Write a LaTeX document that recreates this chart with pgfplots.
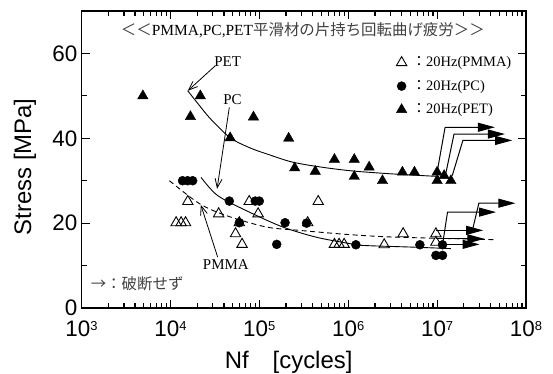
\documentclass[border=0pt]{standalone}
\usepackage{fontspec}
\setmainfont{Liberation Serif}
\newfontfamily\arial{Liberation Sans}
\newfontfamily\jp{Noto Sans CJK JP}
\usepackage{pgfplots}
\pgfplotsset{compat=1.18}
\usetikzlibrary{arrows.meta}
\newcommand{\ex}[1]{10\raisebox{6.5bp}{\fontsize{13}{13}\selectfont #1}}
\begin{document}
\begin{tikzpicture}[
  annot/.style={line width=0.8bp, -{Straight Barb[length=9bp,width=7bp]}},
  runout/.style={line width=1bp, -{Triangle[length=17bp,width=9bp]}}]
\path[use as bounding box] (0,0) rectangle (553bp,374bp);
\begin{axis}[
  at={(81.5bp,66bp)}, anchor=south west,
  scale only axis, width=444.5bp, height=297bp,
  xmode=log, xmin=1e3, xmax=1e8, ymin=0, ymax=70,
  xtick={1e3,1e4,1e5,1e6,1e7,1e8},
  xticklabels={\ex{3},\ex{4},\ex{5},\ex{6},\ex{7},\ex{8}},
  ytick={0,20,40,60}, yticklabels={0,20,40,60},
  minor ytick={10,30,50},
  tick align=inside,
  major tick length=8bp, minor tick length=5bp,
  axis line style={line width=1.5bp},
  every tick/.style={black, line width=1.2bp},
  ticklabel style={font=\arial\fontsize{22.5}{22.5}\selectfont, inner sep=1bp},
  xticklabel style={yshift=-12bp},
  yticklabel style={xshift=-3bp},
  xlabel={Nf\hspace{24bp}[cycles]},
  ylabel={Stress [MPa]},
  label style={font=\arial\fontsize{24}{24}\selectfont},
  xlabel style={at={(axis description cs:0.466,-0.184)}, anchor=center},
  ylabel style={at={(axis description cs:-0.127,0.475)}, anchor=center},
  legend style={at={(axis description cs:0.708,0.853)}, anchor=north west,
    draw=none, fill=none, font=\fontsize{14.5}{17}\selectfont,
    row sep=8bp, inner sep=0pt},
  legend cell align=left,
]
\addlegendimage{only marks, mark=triangle, mark size=6bp, mark options={black, line width=0.9bp}}
\addlegendentry{\hspace{3bp}{\jp ：}20Hz(PMMA)}
\addlegendimage{only marks, mark=*, mark size=4.5bp, mark options={black}}
\addlegendentry{\hspace{3bp}{\jp ：}20Hz(PC)}
\addlegendimage{only marks, mark=triangle*, mark size=6bp, mark options={black}}
\addlegendentry{\hspace{3bp}{\jp ：}20Hz(PET)}

% fit curves
\addplot[forget plot, black, line width=0.9bp, smooth] coordinates {
(1.567e4,51.2) (2.0e4,48.4) (2.82e4,44.6) (4.72e4,40.1) (7.94e4,37.7)
(1.26e5,36.2) (2.34e5,34.4) (5.0e5,33.2) (1.12e6,32.3) (3.16e6,31.6) (1.05e7,31.0)};
\addplot[forget plot, black, line width=0.9bp, smooth] coordinates {
(2.21e4,30.8) (3.4e4,26.5) (7.73e4,22.6) (1.83e5,19.1) (4.34e5,16.7)
(1.03e6,15.2) (1.45e6,14.75) (5.25e6,14.35) (1.43e7,14.0)};
\addplot[forget plot, black, line width=0.9bp, smooth, dash pattern=on 5bp off 3.5bp] coordinates {
(9.75e3,30.0) (2.12e4,24.6) (4.23e4,21.8) (1.19e5,19.1) (2.81e5,18.3)
(1.03e6,17.3) (3.44e6,16.7) (4.57e7,16.1)};

% PC
\addplot[forget plot, only marks, mark=*, mark size=4.5bp, mark options={black}] coordinates {
(1.37e4,30) (1.56e4,30) (1.78e4,30) (4.6e4,25.2) (9e4,25.2) (1e5,25.2)
(5.96e4,20.1) (1.95e5,20.1) (3.4e5,20) (1.57e5,15) (1.22e6,14.9)
(6.4e6,14.9) (1.15e7,14.9) (9.7e6,12.4) (1.15e7,12.4)};
% PET
\addplot[forget plot, only marks, mark=triangle*, mark size=6bp, mark options={black}] coordinates {
(4.9e3,50) (2.17e4,50) (1.68e4,45.1) (8.6e4,45) (4.7e4,40.1) (2.14e5,40)
(2.5e5,33) (4.26e5,32.2) (7e5,35) (1.17e6,35) (1.17e6,31) (1.72e6,33.2)
(2.43e6,30) (4.07e6,32) (5.56e6,32) (1e7,32) (1e7,30) (1.2e7,31.2) (1.43e7,30)};
% PMMA
\addplot[forget plot, only marks, mark=triangle, mark size=6bp, mark options={black, line width=0.9bp}] coordinates {
(1.57e4,25.1) (1.16e4,20.1) (1.32e4,20.1) (1.48e4,20.1) (3.49e4,22.2)
(7.7e4,25.1) (9.7e4,22.2) (5.96e4,20.1) (5.4e4,17.5) (6.4e4,15)
(3.5e5,20.1) (4.6e5,25.1) (7e5,15) (7.9e5,15) (9e5,15) (2.54e6,14.9)
(4.15e6,17.5) (9.7e6,17.5) (9.7e6,15.5)};

% run-out arrows
\draw[runout] (axis cs:1e7,32) -- (axis cs:1.23e7,42.6) -- (axis cs:4.47e7,42.6);
\draw[runout] (axis cs:1.25e7,31.6) -- (axis cs:1.55e7,41.0) -- (axis cs:5.8e7,41.0);
\draw[runout] (axis cs:1.48e7,31.2) -- (axis cs:1.95e7,39.5) -- (axis cs:7e7,39.5);
\draw[runout] (axis cs:9.7e6,18.3) -- (axis cs:3.3e7,18.3);
\draw[runout] (axis cs:9.7e6,16.3) -- (axis cs:3.4e7,16.3);
\draw[runout] (axis cs:1.15e7,15.0) -- (axis cs:3.0e7,15.0);
\draw[runout] (axis cs:1.15e7,14.9) -- (axis cs:1.31e7,22.6) -- (axis cs:4.6e7,22.6);
\draw[runout] (axis cs:2.5e7,18.4) -- (axis cs:2.95e7,24.7) -- (axis cs:7.6e7,24.7);

% annotation arrows
\draw[annot] (axis cs:3.2e4,57.1) -- (axis cs:1.57e4,51.2);
\draw[annot] (axis cs:4.6e4,47.3) -- (axis cs:3.35e4,28.1);
\draw[annot] (axis cs:3.4e4,12.0) -- (axis cs:2.2e4,24.3);
\node[font=\fontsize{15}{15}\selectfont] at (axis cs:4.4e4,58) {PET};
\node[font=\fontsize{15}{15}\selectfont] at (axis cs:5.0e4,49) {PC};
\node[font=\fontsize{15}{15}\selectfont] at (axis cs:4.2e4,10.2) {PMMA};

\node[font=\fontsize{15.5}{15.5}\selectfont] at (axis description cs:0.498,0.934)
  {{\jp\color{black!75}＜＜}PMMA,PC,PET{\jp\color{black!75}平滑材の片持ち回転曲げ疲労＞＞}};
\node[anchor=west, font=\jp\fontsize{15.5}{15.5}\selectfont, text=black!75] at (axis description cs:0.013,0.082) {→：破断せず};
\end{axis}
\end{tikzpicture}
\end{document}
